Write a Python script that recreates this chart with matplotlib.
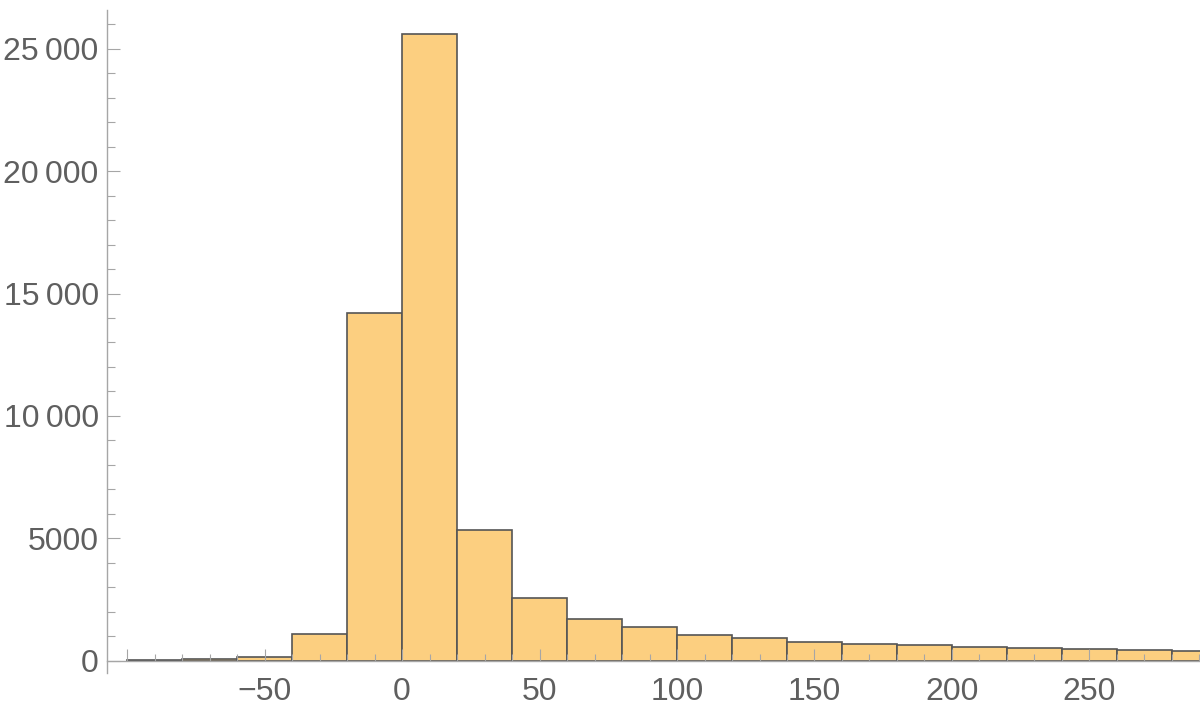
import numpy as np
import matplotlib.pyplot as plt
from matplotlib.ticker import MultipleLocator

plt.rcParams['font.family'] = ['Liberation Sans', 'DejaVu Sans']

# histogram bins (left edges, width 20) and counts
bin_left = [-100, -80, -60, -40, -20, 0, 20, 40, 60, 80,
            100, 120, 140, 160, 180, 200, 220, 240, 260, 280]
bin_width = 20
counts = [30, 55, 165, 1100, 14200, 25600, 5340, 2560, 1700, 1365,
          1060, 925, 765, 670, 630, 545, 505, 465, 425, 385]

x_ticks = [-100, -50, 0, 50, 100, 150, 200, 250]
x_labels = ['', '\u221250', '0', '50', '100', '150', '200', '250']
y_ticks = [0, 5000, 10000, 15000, 20000, 25000]
y_labels = ['0', '5000', '10\u2009000', '15\u2009000', '20\u2009000', '25\u2009000']

axis_col = '#a6a6a6'
label_col = '#5f5f5f'

fig = plt.figure(figsize=(12, 7.16), dpi=100)
ax = fig.add_axes([107 / 1200, 43 / 716, 1 - 107 / 1200, (673 - 10) / 716])

ax.bar(bin_left, counts, width=bin_width, align='edge',
       color='#fccf80', edgecolor='#555555', linewidth=1.2)

ax.set_xlim(-107.3, 290.2)
ax.set_ylim(-500, 26580)

for s in ['top', 'right']:
    ax.spines[s].set_visible(False)
ax.spines['bottom'].set_position(('data', 0))
ax.spines['bottom'].set_color(axis_col)
ax.spines['left'].set_color(axis_col)
ax.spines['bottom'].set_linewidth(1.0)
ax.spines['left'].set_linewidth(1.0)

ax.set_xticks(x_ticks)
ax.set_xticklabels(x_labels)
ax.xaxis.set_minor_locator(MultipleLocator(10))
ax.set_yticks(y_ticks)
ax.set_yticklabels(y_labels)
ax.yaxis.set_minor_locator(MultipleLocator(1000))

ax.tick_params(axis='x', which='major', direction='in', length=8.5, width=0.8,
               color=axis_col, labelsize=23, labelcolor=label_col, pad=12)
ax.tick_params(axis='x', which='minor', direction='in', length=5, width=0.8,
               color=axis_col)
ax.tick_params(axis='y', which='major', direction='in', length=9, width=0.8,
               color=axis_col, labelsize=23, labelcolor=label_col, pad=6)
ax.tick_params(axis='y', which='minor', direction='in', length=5.5, width=0.8,
               color=axis_col)

fig.savefig('out.png', dpi=100)
